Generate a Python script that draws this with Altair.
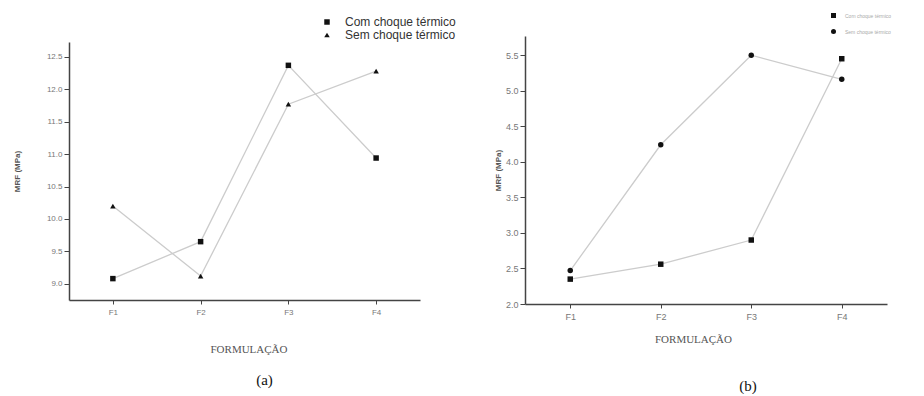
import altair as alt
import pandas as pd

formulations = ["F1", "F2", "F3", "F4"]
series = ["Com choque térmico", "Sem choque térmico"]

a_com = [9.08, 9.65, 12.37, 10.94]
a_sem = [10.20, 9.12, 11.77, 12.28]
a_ticks = [9.0, 9.5, 10.0, 10.5, 11.0, 11.5, 12.0, 12.5]

b_com = [2.35, 2.56, 2.90, 5.45]
b_sem = [2.47, 4.24, 5.50, 5.16]
b_ticks = [2.0, 2.5, 3.0, 3.5, 4.0, 4.5, 5.0, 5.5]

SANS = "Liberation Sans"
SERIF = "Liberation Serif"


def panel(com, sem, ticks, domain, shapes, w, h, caption, cap_dx, cap_off, xt_pad, xt_dx,
          yt_pad, lab_size, leg):
    df = pd.DataFrame({
        "F": formulations * 2,
        "serie": [series[0]] * 4 + [series[1]] * 4,
        "v": com + sem,
    })
    x = alt.X("F:N", scale=alt.Scale(type="point", padding=0.5),
              axis=alt.Axis(title="FORMULAÇÃO", labelAngle=0, titleFont=SERIF,
                            titleFontSize=11, titleFontWeight="normal",
                            titleColor="#555", titlePadding=xt_pad, titleX=w / 2 + xt_dx,
                            labelFont=SANS, labelFontSize=lab_size, labelColor="#777",
                            labelPadding=4, tickSize=4))
    y = alt.Y("v:Q", scale=alt.Scale(domain=domain, nice=False, zero=False),
              axis=alt.Axis(values=ticks, format=".1f", title="MRF (MPa)",
                            titleFont=SANS, titleFontSize=8, titleFontWeight="bold",
                            titleColor="#555", titlePadding=yt_pad,
                            labelFont=SANS, labelFontSize=lab_size, labelColor="#777",
                            labelPadding=2, tickSize=5))
    line = alt.Chart(df).mark_line(color="#cccccc", strokeWidth=1.3).encode(
        x=x, y=y, detail="serie:N")
    pts = alt.Chart(df).mark_point(filled=True, opacity=1, color="#111", size=leg["msize"]).encode(
        x=x, y=y,
        shape=alt.Shape("serie:N", scale=alt.Scale(domain=series, range=shapes),
                        legend=alt.Legend(title=None, orient="none",
                                          legendX=leg["x"], legendY=leg["y"],
                                          padding=leg["pad"],
                                          labelFont=SANS, labelFontSize=leg["fs"],
                                          labelColor=leg["color"],
                                          symbolFillColor="#111", symbolStrokeColor="#111",
                                          symbolSize=leg["ssize"], rowPadding=leg["rp"],
                                          labelOffset=leg["lo"])))
    return alt.layer(line, pts).properties(
        width=w, height=h,
        title=alt.TitleParams(caption, orient="bottom", font=SERIF, fontSize=15,
                              fontWeight="normal", color="#111", anchor="middle",
                              frame="group", dx=cap_dx, offset=cap_off))


pa = panel(a_com, a_sem, a_ticks, [8.75, 12.73], ["square", "triangle-up"], 351, 258,
           "(a)", 20, 19, 27, 4, 25, 8,
           {"x": 246, "y": -32, "pad": 6, "fs": 12, "color": "#333", "ssize": 30,
            "rp": 1, "lo": 12, "msize": 30})
pb = panel(b_com, b_sem, b_ticks, [2.0, 5.77], ["square", "circle"], 362, 268,
           "(b)", 42, 35, 12, -13, 3, 9,
           {"x": 305, "y": -24, "pad": 0, "fs": 5, "color": "#aaa", "ssize": 25,
            "rp": 5, "lo": 8, "msize": 30})

chart = alt.hconcat(pa, pb, spacing=32, center=True).resolve_scale(
    shape="independent", x="independent", y="independent"
).resolve_legend(shape="independent").properties(
    padding={"left": 5, "top": 2, "right": 5, "bottom": 0},
    background="white",
).configure_view(strokeWidth=0).configure_axis(
    grid=False, domainColor="#444", domainWidth=1.5, tickColor="#444"
)

chart.save("out.html", embed_options={"renderer": "svg", "actions": False})
